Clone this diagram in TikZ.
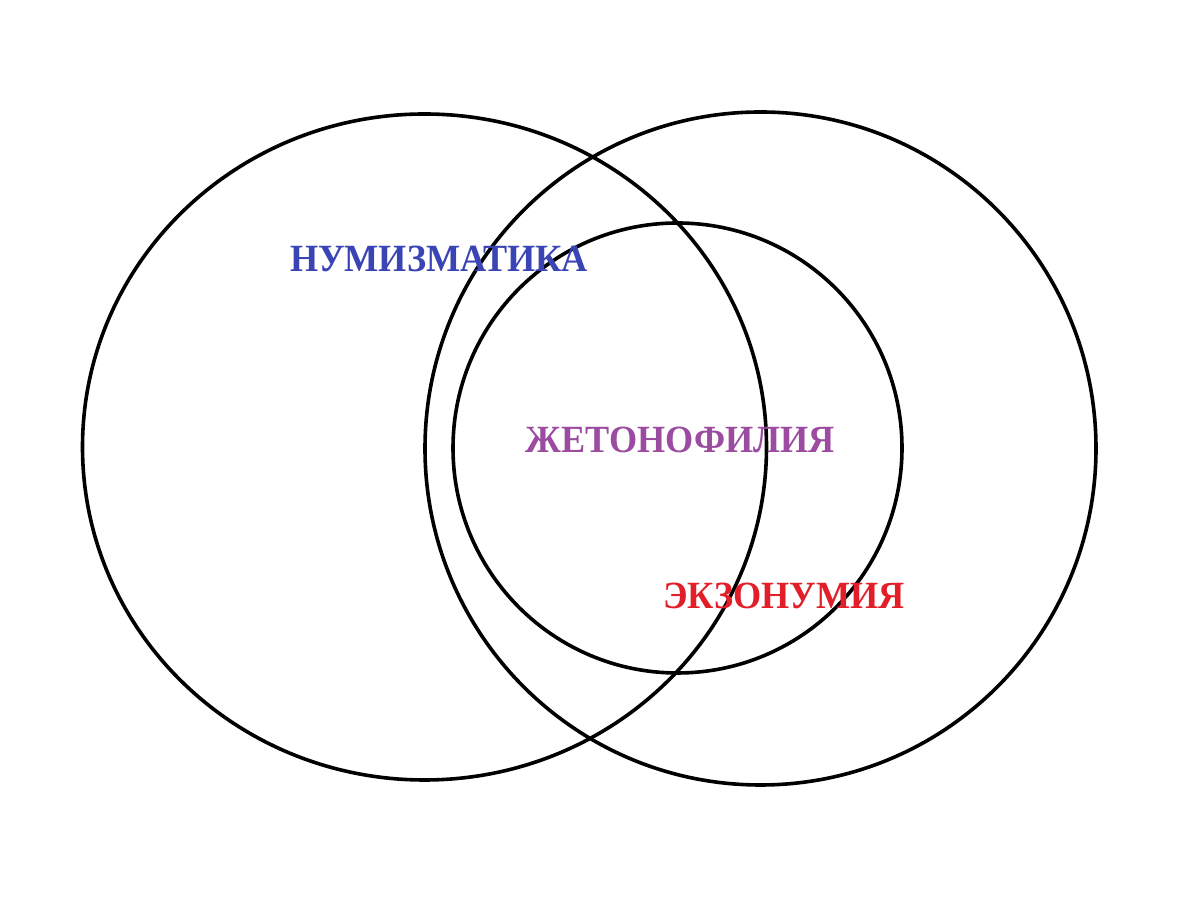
\documentclass[tikz,border=0pt]{standalone}
\usepackage{fontspec}
\setmainfont{Liberation Serif}
\definecolor{numblue}{RGB}{58,68,180}
\definecolor{jetpurple}{RGB}{155,75,160}
\definecolor{exored}{RGB}{226,30,40}
\newcommand{\narrowtext}[1]{\scalebox{0.94}[1]{#1}}
\begin{document}
\begin{tikzpicture}[x=1pt,y=1pt,
  ring/.style={draw=black,line width=3.6pt},
  lbl/.style={font=\fontsize{38.5}{42}\selectfont\bfseries, inner sep=0pt}]
\useasboundingbox[fill=white] (0,0) rectangle (1200,909);
\draw[ring] (424.5,462) ellipse [x radius=342, y radius=333];
\draw[ring] (760.5,460.5) ellipse [x radius=335.5, y radius=336.5];
\draw[ring] (677.5,461) ellipse [x radius=224.5, y radius=225];
\node[lbl,text=numblue] (num) at (439,650) {\narrowtext{НУМИЗМАТИКА}};
\node[lbl,text=jetpurple] (jet) at (680,469) {\narrowtext{ЖЕТОНОФИЛИЯ}};
\node[lbl,text=exored] (exo) at (784,313.5) {\narrowtext{ЭКЗОНУМИЯ}};
\end{tikzpicture}
\end{document}
